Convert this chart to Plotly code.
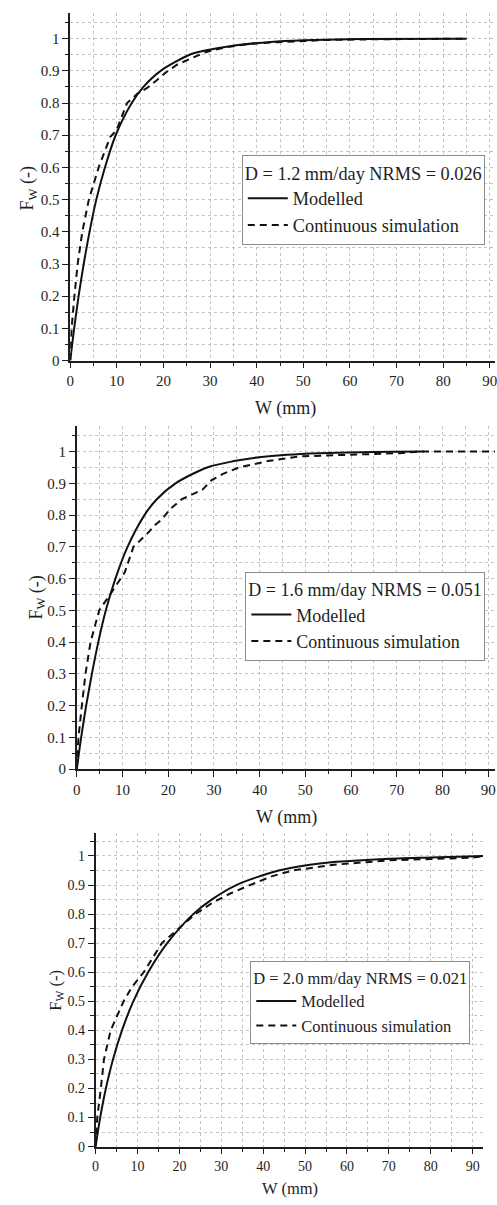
import plotly.graph_objects as go

# ---------------- data ----------------
# Panel 1: D = 1.2 mm/day
W_mod1 = [0, 0.85, 1.8, 2.9, 4.15, 5.6, 7.45, 9.75, 13.2, 15.7, 19.4, 25.6, 28, 31.5, 36, 43, 50, 62, 85]
F_mod1 = [0, 0.1, 0.2, 0.3, 0.4, 0.5, 0.6, 0.7, 0.8, 0.85, 0.9, 0.95, 0.96, 0.97, 0.98, 0.99, 0.995, 0.999, 1.0]
W_sim1 = [0, 0.3, 0.9, 1.6, 2.6, 4.0, 6.1, 8.6, 9.9, 12.2, 14.5, 16.5, 18.5, 20.5, 23, 26, 29, 33, 38, 43, 48, 55, 65, 75, 85]
F_sim1 = [0, 0.1, 0.2, 0.3, 0.4, 0.5, 0.6, 0.695, 0.715, 0.8, 0.83, 0.847, 0.87, 0.895, 0.92, 0.94, 0.958, 0.972, 0.983, 0.988, 0.992, 0.996, 0.998, 1.0, 1.0]

# Panel 2: D = 1.6 mm/day
W_mod2 = [0, 0.95, 2.05, 3.3, 4.7, 6.35, 8.45, 11.1, 14.8, 17.5, 21.6, 28.5, 34.4, 38.7, 46, 53, 65, 76]
F_mod2 = [0, 0.1, 0.2, 0.3, 0.4, 0.5, 0.6, 0.7, 0.8, 0.85, 0.9, 0.95, 0.97, 0.98, 0.99, 0.995, 0.999, 1.0]
W_sim2 = [0, 0.36, 1.1, 1.9, 3.0, 4.9, 7.3, 9.5, 10.5, 12.4, 15.3, 17.2, 18.5, 20.5, 23, 26, 27.5, 29.5, 32, 35.5, 41.8, 49, 59.8, 70.6, 75, 92.5]
F_sim2 = [0, 0.1, 0.2, 0.3, 0.4, 0.5, 0.55, 0.6, 0.62, 0.7, 0.74, 0.77, 0.785, 0.82, 0.85, 0.87, 0.88, 0.91, 0.93, 0.95, 0.97, 0.985, 0.99, 0.995, 1.0, 1.0]

# Panel 3: D = 2.0 mm/day
W_mod3 = [0, 1.1, 2.45, 4.15, 6.3, 9.0, 12.55, 17.1, 23.3, 27.7, 33.6, 43.7, 51.2, 57.5, 69, 80, 92.5]
F_mod3 = [0, 0.1, 0.2, 0.3, 0.4, 0.5, 0.6, 0.7, 0.8, 0.85, 0.9, 0.95, 0.97, 0.98, 0.99, 0.995, 1.0]
W_sim3 = [0, 0.4, 1.25, 2.0, 3.6, 6.7, 8.7, 11.5, 15.8, 19.7, 23.8, 28, 32, 36, 38.5, 42, 47, 57, 70, 80, 90, 92.5]
F_sim3 = [0, 0.1, 0.2, 0.3, 0.4, 0.5, 0.55, 0.6, 0.7, 0.75, 0.8, 0.84, 0.87, 0.895, 0.91, 0.93, 0.95, 0.97, 0.985, 0.99, 0.994, 1.0]

legend_titles = ["D = 1.2 mm/day NRMS = 0.026",
                 "D = 1.6 mm/day NRMS = 0.051",
                 "D = 2.0 mm/day NRMS = 0.021"]
series_names = ["Modelled", "Continuous simulation"]
x_title = "W (mm)"
y_title = "F<sub>W</sub> (-)"
x_ticks = [0, 10, 20, 30, 40, 50, 60, 70, 80, 90]

modelled = [(W_mod1, F_mod1), (W_mod2, F_mod2), (W_mod3, F_mod3)]
simulated = [(W_sim1, F_sim1), (W_sim2, F_sim2), (W_sim3, F_sim3)]

# ---------------- layout (pixel geometry of the page) ----------------
FIG_W, FIG_H = 497, 1205
FONT = "Liberation Serif"
INK = "#1e1e1e"
GRID = "#c4c4c4"

panels = [
    dict(left=67, right=497, top=13, bottom=363, xmax=91.1, cut=True,
         tick=15, lab=18, leg_font=18.3, xt=(285, 411), yt=(25, 190), leg=(240.7, 156)),
    dict(left=73.7, right=497, top=429, bottom=774.3, xmax=91.5, cut=True,
         tick=15, lab=18, leg_font=18, xt=(286, 823), yt=(33, 602), leg=(244.3, 575.7)),
    dict(left=92.7, right=485, top=838.3, bottom=1154.3, xmax=92.5, cut=False,
         tick=14, lab=16.5, leg_font=16.5, xt=(289, 1196), yt=(53, 997), leg=(249.3, 967.7)),
]

def fx(p):
    return p / FIG_W

def fy(p):
    return (FIG_H - p) / FIG_H

fig = go.Figure()
layout = dict(width=FIG_W, height=FIG_H, autosize=False,
              margin=dict(l=0, r=0, t=0, b=0),
              font=dict(family=FONT, color=INK),
              paper_bgcolor="white", plot_bgcolor="white",
              showlegend=True, annotations=[])

for i, p in enumerate(panels, start=1):
    xa = f"xaxis{i}"
    ya = f"yaxis{i}"
    xref = f"x{i}"
    yref = f"y{i}"
    legname = "legend" if i == 1 else f"legend{i}"

    (wm, fm) = modelled[i - 1]
    (ws, fs) = simulated[i - 1]
    fig.add_trace(go.Scatter(x=wm, y=fm, mode="lines", name=series_names[0],
                             line=dict(color="#111111", width=2, shape="spline", smoothing=0.8),
                             xaxis=xref, yaxis=yref, legend=legname))
    fig.add_trace(go.Scatter(x=ws, y=fs, mode="lines", name=series_names[1],
                             line=dict(color="#111111", width=2, dash="7px,5px"),
                             xaxis=xref, yaxis=yref, legend=legname))

    dom_x = [fx(p["left"]), min(1.0, fx(p["right"]))]
    dom_y = [fy(p["bottom"]), fy(p["top"])]

    layout[xa] = dict(domain=dom_x, anchor=yref, range=[0, p["xmax"]],
                      tickmode="array", tickvals=x_ticks,
                      ticks="outside", ticklen=6, tickwidth=1.3, tickcolor=INK,
                      showline=True, linecolor=INK, linewidth=1.6,
                      showgrid=True, gridcolor=GRID, griddash="dot", gridwidth=1,
                      minor=dict(dtick=5, tick0=0, ticks="outside", ticklen=3.5,
                                 tickcolor=INK, tickwidth=1.2,
                                 showgrid=True, gridcolor=GRID, griddash="dot", gridwidth=1),
                      tickfont=dict(family=FONT, size=p["tick"], color=INK),
                      ticklabeloverflow="allow", zeroline=False, fixedrange=True)
    layout[ya] = dict(domain=dom_y, anchor=xref, range=[0, 1.08],
                      tick0=0, dtick=0.1,
                      ticks="outside", ticklen=6, tickwidth=1.3, tickcolor=INK,
                      showline=True, linecolor=INK, linewidth=1.6,
                      showgrid=True, gridcolor=GRID, griddash="dot", gridwidth=1,
                      minor=dict(dtick=0.05, tick0=0, ticks="outside", ticklen=3.5,
                                 tickcolor=INK, tickwidth=1.2,
                                 showgrid=True, gridcolor=GRID, griddash="dot", gridwidth=1),
                      tickfont=dict(family=FONT, size=p["tick"], color=INK),
                      zeroline=False, fixedrange=True)

    # top border with inward ticks
    layout[f"xaxis{i + 3}"] = dict(overlaying=xref, side="top", anchor=yref,
                                   range=[0, p["xmax"]], tickmode="array", tickvals=x_ticks,
                                   ticks="inside", ticklen=6, tickwidth=1.3, tickcolor=INK,
                                   showline=True, linecolor=INK, linewidth=1.6,
                                   showgrid=False, showticklabels=False, zeroline=False,
                                   minor=dict(dtick=5, tick0=0, ticks="inside", ticklen=3.5,
                                              tickcolor=INK, tickwidth=1.2, showgrid=False),
                                   fixedrange=True)
    # right border (cut off for the first two panels: only tick stubs remain)
    if p["cut"]:
        layout[f"yaxis{i + 3}"] = dict(overlaying=yref, side="right", anchor="free", position=1.0,
                                       range=[0, 1.08], tick0=0, dtick=0.1,
                                       ticks="inside", ticklen=3, tickwidth=1.3, tickcolor=INK,
                                       showline=False, showgrid=False, showticklabels=False,
                                       zeroline=False, fixedrange=True)
    else:
        layout[f"yaxis{i + 3}"] = dict(overlaying=yref, side="right", anchor=xref,
                                       range=[0, 1.08], tick0=0, dtick=0.1,
                                       ticks="inside", ticklen=6, tickwidth=1.3, tickcolor=INK,
                                       showline=True, linecolor=INK, linewidth=1.6,
                                       showgrid=False, showticklabels=False, zeroline=False,
                                       minor=dict(dtick=0.05, tick0=0, ticks="inside", ticklen=3.5,
                                                  tickcolor=INK, tickwidth=1.2, showgrid=False),
                                       fixedrange=True)

    layout[legname] = dict(x=fx(p["leg"][0]), y=fy(p["leg"][1]), xanchor="left", yanchor="top",
                           xref="paper", yref="paper",
                           bgcolor="white", bordercolor="#8c8c8c", borderwidth=1,
                           font=dict(family=FONT, size=p["leg_font"], color=INK),
                           title=dict(text=legend_titles[i - 1],
                                      font=dict(family=FONT, size=p["leg_font"], color=INK)),
                           tracegroupgap=0, itemwidth=40)

    layout["annotations"].append(dict(text=x_title, x=fx(p["xt"][0]), y=fy(p["xt"][1]),
                                      xref="paper", yref="paper", showarrow=False,
                                      xanchor="center", yanchor="middle",
                                      font=dict(family=FONT, size=p["lab"], color=INK)))
    layout["annotations"].append(dict(text=y_title, x=fx(p["yt"][0]), y=fy(p["yt"][1]),
                                      xref="paper", yref="paper", showarrow=False,
                                      xanchor="center", yanchor="middle", textangle=-90,
                                      font=dict(family=FONT, size=p["lab"], color=INK)))

fig.update_layout(**layout)
fig.write_html("out.html", config={"displayModeBar": False},
               post_script="document.body.style.margin='0px';document.body.style.overflow='hidden';")
